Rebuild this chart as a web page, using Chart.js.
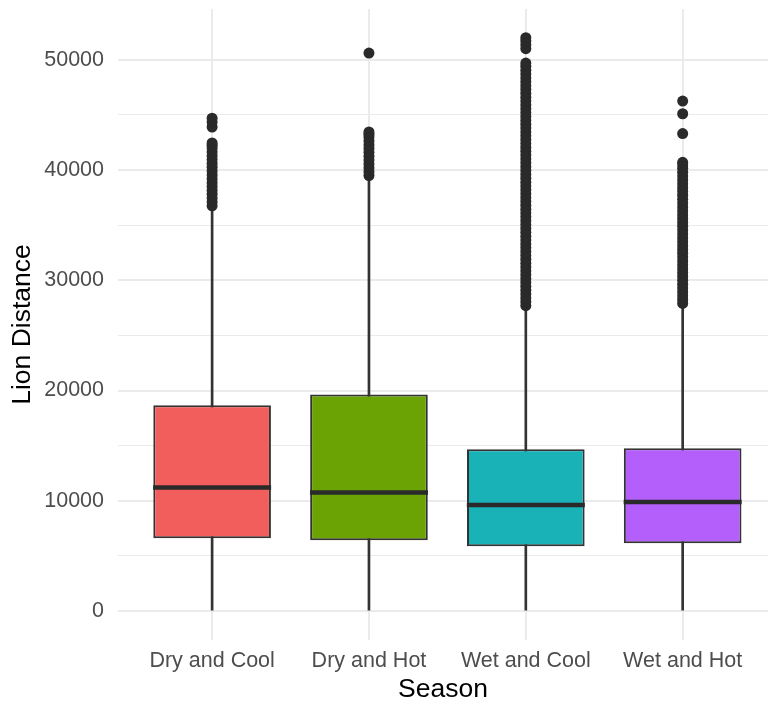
<!DOCTYPE html>
<html>
<head>
<meta charset="utf-8">
<script src="https://cdn.jsdelivr.net/npm/chart.js@4.4.0/dist/chart.umd.min.js"></script>
<style>
  html, body { margin: 0; padding: 0; background: #fff; }
  #wrap { width: 768px; height: 706px; }
</style>
</head>
<body>
<div id="wrap"><canvas id="chart" width="768" height="706"></canvas></div>
<script>
/* ===== Lion distance by season (box plot) ===== */

const seasons   = ['Dry and Cool', 'Dry and Hot', 'Wet and Cool', 'Wet and Hot'];
const boxColors = ['#F15E5B', '#6BA304', '#19B2B6', '#B45FFB'];

// box statistics
const q1          = [6610, 6430, 5890, 6160];
const medians     = [11200, 10750, 9630, 9900];
const q3          = [18660, 19650, 14670, 14760];
const whiskerLow  = [0, 0, 0, 0];
const whiskerHigh = [36500, 39300, 27500, 27700];

// outliers (dense runs read as closely spaced points)
const outDryCool = [36750, 37100, 37450, 37800, 38150, 38500, 38850, 39200, 39550, 39900,
  40250, 40600, 40950, 41300, 41650, 42000, 42250, 42450, 43900, 44350, 44700];
const outDryHot = [39500, 39850, 40200, 40550, 40900, 41250, 41600, 41950, 42300, 42650,
  43000, 43250, 43450, 50600];
const outWetCool = [27700, 28050, 28400, 28750, 29100, 29450, 29800, 30150, 30500, 30850,
  31200, 31550, 31900, 32250, 32600, 32950, 33300, 33650, 34000, 34350, 34700, 35050,
  35400, 35750, 36100, 36450, 36800, 37150, 37500, 37850, 38200, 38550, 38900, 39250,
  39600, 39950, 40300, 40650, 41000, 41350, 41700, 42050, 42400, 42750, 43100, 43450,
  43800, 44150, 44500, 44850, 45200, 45550, 45900, 46250, 46600, 46950, 47300, 47650,
  48000, 48350, 48700, 49050, 49400, 49700, 51000, 51350, 51700, 52000];
const outWetHot = [27900, 28250, 28600, 28950, 29300, 29650, 30000, 30350, 30700, 31050,
  31400, 31750, 32100, 32450, 32800, 33150, 33500, 33850, 34200, 34550, 34900, 35250,
  35600, 35950, 36300, 36650, 37000, 37350, 37700, 38050, 38400, 38750, 39100, 39450,
  39800, 40150, 40450, 40700, 43300, 45100, 46250];
const outliers = [outDryCool, outDryHot, outWetCool, outWetHot];

const yTicks      = [0, 5000, 10000, 15000, 20000, 25000, 30000, 35000, 40000, 45000, 50000];
const yTickLabels = ['0', '', '10000', '', '20000', '', '30000', '', '40000', '', '50000'];

const FONT = '"Liberation Sans", Arial, Helvetica, sans-serif';
const GRID = '#EBEBEB';
const INK  = '#333333';

const outlierPoints = [];
outliers.forEach((arr, i) => arr.forEach(v => outlierPoints.push({x: i, y: v})));

const ctx = document.getElementById('chart').getContext('2d');
new Chart(ctx, {
  type: 'bar',
  data: {
    datasets: [
      {
        type: 'scatter',
        label: 'outliers',
        data: outlierPoints,
        pointRadius: 5.5,
        pointBackgroundColor: '#2A2A2A',
        pointBorderWidth: 0,
        order: 0
      },
      {
        type: 'scatter',
        label: 'median',
        data: medians.map((m, i) => ({x: i, y: m})),
        pointStyle: 'line',
        pointRadius: 59,
        pointBorderColor: '#2A2A2A',
        pointBorderWidth: 4.5,
        order: 1
      },
      {
        type: 'bar',
        label: 'box',
        data: q1.map((v, i) => ({x: i, y: [v, q3[i]]})),
        backgroundColor: boxColors,
        borderColor: INK,
        borderWidth: 2,
        borderSkipped: false,
        grouped: false,
        barPercentage: 0.75,
        categoryPercentage: 1,
        order: 2
      },
      {
        type: 'bar',
        label: 'whisker',
        data: whiskerLow.map((v, i) => ({x: i, y: [v, whiskerHigh[i]]})),
        backgroundColor: INK,
        borderWidth: 0,
        grouped: false,
        barThickness: 2,
        order: 3
      }
    ]
  },
  options: {
    responsive: false,
    animation: false,
    devicePixelRatio: 1,
    events: [],
    layout: { autoPadding: false, padding: { top: 9, left: 0, right: 0, bottom: 0 } },
    plugins: {
      legend: { display: false },
      tooltip: { enabled: false }
    },
    scales: {
      x: {
        type: 'linear',
        offset: false,
        min: -0.6,
        max: 3.544,
        afterBuildTicks: s => { s.ticks = seasons.map((_, i) => ({value: i})); },
        afterFit: s => { s.height = 66; s.paddingLeft = 0; s.paddingRight = 0; },
        ticks: {
          autoSkip: false,
          maxRotation: 0,
          padding: 8,
          color: '#4D4D4D',
          font: { family: FONT, size: 21.5 },
          callback: (v, i) => seasons[i]
        },
        grid: { color: GRID, lineWidth: 2, drawTicks: false, offset: false },
        border: { display: false },
        title: {
          display: true,
          text: 'Season',
          color: '#000',
          font: { family: FONT, size: 26.5, lineHeight: 1.2 },
          padding: { top: 0, bottom: 0 }
        }
      },
      y: {
        min: -2620,
        max: 54600,
        afterBuildTicks: s => { s.ticks = yTicks.map(v => ({value: v})); },
        afterFit: s => { s.width = 118; s.paddingTop = 0; s.paddingBottom = 0; },
        ticks: {
          autoSkip: false,
          padding: 14,
          color: '#4D4D4D',
          font: { family: FONT, size: 21.5 },
          callback: (v, i) => yTickLabels[i]
        },
        grid: {
          color: GRID,
          lineWidth: c => (c.tick && c.tick.value % 10000 === 0 ? 2 : 1),
          drawTicks: false
        },
        border: { display: false },
        title: {
          display: true,
          text: 'Lion Distance',
          color: '#000',
          font: { family: FONT, size: 26.5, lineHeight: 1.2 },
          padding: { top: 7, bottom: 0 }
        }
      }
    }
  }
});
</script>
</body>
</html>
